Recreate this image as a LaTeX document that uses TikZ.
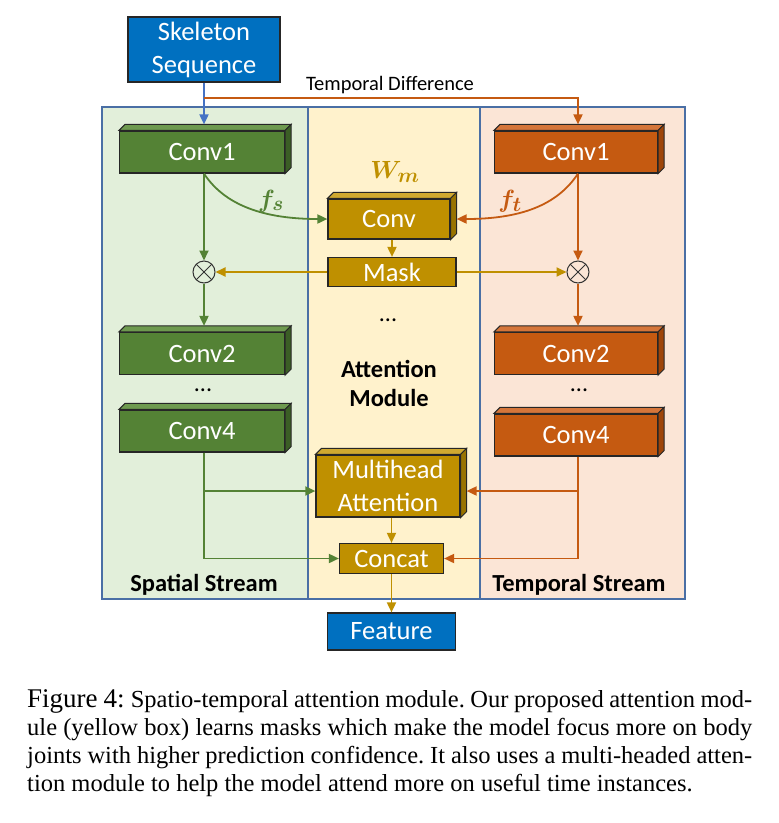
\documentclass[tikz,border=0pt]{standalone}
\usepackage{fontspec}
\usepackage{amsmath,bm}
\setmainfont{Carlito}
\newfontfamily\capfont{Liberation Serif}
\usetikzlibrary{arrows.meta,calc}
\definecolor{bbfill}{HTML}{0070C0}
\definecolor{gfill}{HTML}{548235}
\definecolor{gtop}{HTML}{6E9A4F}
\definecolor{gside}{HTML}{3B5E25}
\definecolor{ofill}{HTML}{C55A11}
\definecolor{otop}{HTML}{D5763A}
\definecolor{oside}{HTML}{9E4509}
\definecolor{yfill}{HTML}{BF9000}
\definecolor{ytop}{HTML}{D0A930}
\definecolor{yside}{HTML}{987300}
\definecolor{gpan}{HTML}{E2EFDA}
\definecolor{ypan}{HTML}{FFF2CC}
\definecolor{opan}{HTML}{FBE5D6}
\definecolor{panline}{HTML}{4A6FA5}
\definecolor{barrc}{HTML}{4472C4}
\newcommand{\cubeface}[3]{%
  \filldraw[draw=black!85, line width=1pt, fill=#2] (#1.north west) -- ++(6,-6) -- ($(#1.north east)+(6,-6)$) -- (#1.north east) -- cycle;
  \filldraw[draw=black!85, line width=1pt, fill=#3] (#1.north east) -- ++(6,-6) -- ($(#1.south east)+(6,-6)$) -- (#1.south east) -- cycle;
}
\frenchspacing
\begin{document}
\begin{tikzpicture}[x=1pt,y=-1pt,
  panel/.style={draw=panline, line width=1.2pt, inner sep=0pt},
  boxbase/.style={draw=black!85, line width=1.2pt, text=white, inner sep=0pt, align=center,
    font=\fontsize{26.5}{33}\selectfont},
  gbox/.style={boxbase, fill=gfill, minimum width=165, minimum height=42},
  obox/.style={boxbase, fill=ofill, minimum width=163, minimum height=42},
  ybox/.style={boxbase, fill=yfill},
  bbox/.style={boxbase, fill=bbfill},
  otimes/.style={circle, draw=black!80, line width=1pt, minimum size=22, inner sep=0pt,
    path picture={\draw[black!80, line width=1pt] (path picture bounding box.north west) -- (path picture bounding box.south east)
      (path picture bounding box.north east) -- (path picture bounding box.south west);}},
  conn/.style={line width=1.8pt, -{Triangle[length=10pt,width=9pt]}},
  garr/.style={conn, draw=gfill},
  oarr/.style={conn, draw=ofill},
  yarr/.style={conn, draw=yfill},
  barr/.style={conn, draw=barrc},
  bold/.style={font=\fontsize{24.5}{29}\selectfont\bfseries, align=center, inner sep=0pt},
  mathlbl/.style={font=\fontsize{28}{30}\selectfont, inner sep=0pt},
  capline/.style={anchor=base west, inner sep=0pt, font=\capfont\fontsize{24.5}{28}\selectfont}
]
\useasboundingbox (0,0) rectangle (779,823);
% panels
\node[panel, fill=gpan, minimum width=206, minimum height=492] (pS) at (205,353) {};
\node[panel, fill=ypan, minimum width=172, minimum height=492] (pA) at (394,353) {};
\node[panel, fill=opan, minimum width=205, minimum height=492] (pT) at (582.5,353) {};
% boxes
\node[bbox, minimum width=152, minimum height=65] (skel) at (204,49.5) {Skeleton\\Sequence};
\node[gbox] (gc1) at (202,152) {Conv1};
\node[obox] (oc1) at (576,152) {Conv1};
\node[ybox, minimum width=122, minimum height=40] (yconv) at (389,219) {Conv};
\node[ybox, minimum width=128, minimum height=29] (mask) at (392,272) {Mask};
\node[otimes] (gt) at (204,272) {};
\node[otimes] (ot) at (578,272) {};
\node[gbox] (gc2) at (202,353.5) {Conv2};
\node[gbox] (gc4) at (202,431) {Conv4};
\node[obox] (oc2) at (576,353.5) {Conv2};
\node[obox] (oc4) at (576,435) {Conv4};
\node[ybox, minimum width=144, minimum height=62] (mh) at (388,486) {Multihead\\Attention};
\node[ybox, minimum width=104, minimum height=30] (concat) at (391.5,558.5) {Concat};
\node[bbox, minimum width=128, minimum height=37] (feat) at (391.5,631.5) {Feature};
\cubeface{gc1}{gtop}{gside}
\cubeface{gc2}{gtop}{gside}
\cubeface{gc4}{gtop}{gside}
\cubeface{oc1}{otop}{oside}
\cubeface{oc2}{otop}{oside}
\cubeface{oc4}{otop}{oside}
\cubeface{yconv}{ytop}{yside}
\cubeface{mh}{ytop}{yside}
% labels
\node[font=\fontsize{20.5}{24}\selectfont, inner sep=0pt] (tdl) at (390,85) {Temporal Difference};
\node[mathlbl, text=yfill] (wm) at (395,172) {$\bm{W_m}$};
\node[mathlbl, text=gfill] (fs) at (271,201) {$\bm{f_s}$};
\node[mathlbl, text=ofill] (ft) at (510,201) {$\bm{f_t}$};
\node[font=\fontsize{24}{29}\selectfont, inner sep=0pt] (d1) at (388,320) {...};
\node[font=\fontsize{24}{29}\selectfont, inner sep=0pt] (d2) at (203,390) {...};
\node[font=\fontsize{24}{29}\selectfont, inner sep=0pt] (d3) at (579,390) {...};
\node[bold] (am) at (389,383) {Attention\\Module};
\node[bold] (ss) at (204,585) {Spatial Stream};
\node[bold] (ts) at (579,585) {Temporal Stream};
% connectors
\coordinate (tdc) at (204,98);
\draw[barr] (skel.south) -- ($(skel.south |- gc1.north)+(0,-6)$);
\draw[oarr] (tdc) -| ($(ot |- oc1.north)+(0,-6)$);
\draw[garr] (gc1.south -| gt) -- (gt.north);
\draw[garr] (gt.south) -- ($(gt |- gc2.north)+(0,-6)$);
\draw[garr] (gc1.south -| gt) .. controls +(21,32) and +(-63,0) .. (yconv.west);
\draw[oarr] (ot |- oc1.south) -- (ot.north);
\draw[oarr] (ot.south) -- ($(ot |- oc2.north)+(0,-6)$);
\draw[oarr] (oc1.south -| ot) .. controls +(-21,32) and +(63,0) .. ($(yconv.east)+(6,0)$);
\draw[yarr] (mask.north |- yconv.south) -- (mask.north);
\draw[yarr] (mask.west) -- (gt.east);
\draw[yarr] (mask.east) -- (ot.west);
\draw[garr] (gc4.south -| gt) |- (concat.west);
\draw[garr] (gc4.south -| gt) |- ($(mh.west)+(0,5)$);
\draw[oarr] (oc4.south -| ot) |- (concat.east);
\draw[oarr] (oc4.south -| ot) |- ($(mh.east)+(6,5)$);
\draw[yarr] (concat.north |- mh.south) -- (concat.north);
\draw[yarr] (concat.south) -- (feat.north);
% caption
\node[capline] (c1) at (27,707) {\makebox[725pt][s]{\fontsize{27}{28}\selectfont Figure 4: \fontsize{24.5}{28}\selectfont Spatio-temporal attention module. Our proposed attention mod-}};
\node[capline] (c2) at (27,735) {\makebox[725pt][s]{ule (yellow box) learns masks which make the model focus more on body}};
\node[capline] (c3) at (27,763) {\makebox[725pt][s]{joints with higher prediction confidence. It also uses a multi-headed atten-}};
\node[capline] (c4) at (27,791) {tion module to help the model attend more on useful time instances.};
\end{tikzpicture}
\end{document}
